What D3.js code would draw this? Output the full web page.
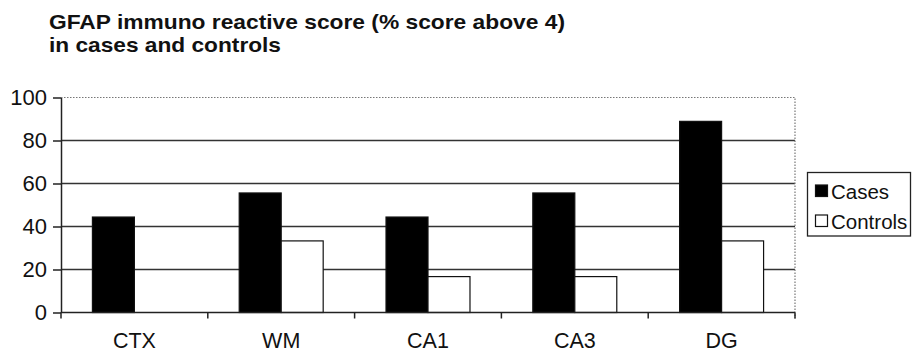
<!DOCTYPE html>
<html><head><meta charset="utf-8">
<script src="https://cdn.jsdelivr.net/npm/d3@7"></script>
<style>html,body{margin:0;padding:0;background:#fff;}svg{display:block;}</style>
</head><body>
<svg id="chart" width="912" height="353"></svg>
<script>
const titleLines = ["GFAP immuno reactive score (% score above 4)", "in cases and controls"];
const categories = ["CTX", "WM", "CA1", "CA3", "DG"];
const seriesNames = ["Cases", "Controls"];
const cases = [44.4, 55.6, 44.4, 55.6, 88.9];
const controls = [0, 33.3, 16.7, 16.7, 33.3];
const yTicks = [0, 20, 40, 60, 80, 100];

const svg = d3.select("#chart");
const font = "'Liberation Sans', Arial, Helvetica, sans-serif";
const L = 61, R = 795, T = 97.5, B = 312.5;

const x0 = d3.scaleBand().domain(categories).range([L, R]).padding(0);
const bw = x0.bandwidth();
const gap = bw * 0.214;
const x1 = d3.scaleBand().domain(seriesNames).range([gap, bw - gap]).padding(0);
const y = d3.scaleLinear().domain([0, 100]).range([B, T]);
const color = d3.scaleOrdinal().domain(seriesNames).range(["#000", "#fff"]);

// title
const tt = svg.append("g").attr("font-family", font).attr("font-weight", "bold").attr("font-size", 21).attr("fill", "#111");
tt.append("text").attr("x", 49).attr("y", 28.5).attr("textLength", 516).attr("lengthAdjust", "spacingAndGlyphs").text(titleLines[0]);
tt.append("text").attr("x", 49).attr("y", 52).attr("textLength", 232).attr("lengthAdjust", "spacingAndGlyphs").text(titleLines[1]);

// gridlines
svg.append("g").selectAll("line").data(yTicks.filter(v => v > 0 && v < 100)).join("line")
  .attr("x1", L).attr("x2", R).attr("y1", d => y(d)).attr("y2", d => y(d))
  .attr("stroke", "#333").attr("stroke-width", 1.5);

// dotted top/right border
svg.append("path").attr("d", `M${L},${y(100)}H${R}V${B + 6}`)
  .attr("fill", "none").attr("stroke", "#777").attr("stroke-width", 1.2).attr("stroke-dasharray", "1.5,1.5");

// bars
const rows = categories.map((c, i) => ({ cat: c, vals: [cases[i], controls[i]] }));
const g = svg.append("g").selectAll("g").data(rows).join("g")
  .attr("transform", d => `translate(${x0(d.cat)},0)`);
g.selectAll("rect").data(d => d.vals.map((v, j) => ({ s: seriesNames[j], v })).filter(e => e.v > 0)).join("rect")
  .attr("x", d => x1(d.s)).attr("width", x1.bandwidth())
  .attr("y", d => y(d.v)).attr("height", d => y(0) - y(d.v))
  .attr("fill", d => color(d.s)).attr("stroke", "#111").attr("stroke-width", 1.2);

// y axis
const ya = svg.append("g").attr("transform", `translate(${L},0)`)
  .call(d3.axisLeft(y).tickValues(yTicks).tickSize(8).tickPadding(6).tickSizeOuter(0));
ya.select(".domain").attr("stroke", "#222").attr("stroke-width", 1.5);
ya.selectAll(".tick line").attr("stroke", "#222").attr("stroke-width", 1.5);
ya.selectAll("text").attr("font-family", font).attr("font-size", 22).attr("fill", "#111");

// x axis
const bounds = categories.map(c => x0(c)).concat([R]);
const xg = svg.append("g");
xg.append("line").attr("x1", L).attr("x2", R).attr("y1", B).attr("y2", B).attr("stroke", "#222").attr("stroke-width", 1.5);
xg.selectAll("line.t").data(bounds).join("line").attr("class", "t")
  .attr("x1", d => d).attr("x2", d => d).attr("y1", B).attr("y2", B + 6)
  .attr("stroke", "#222").attr("stroke-width", 1.5);
xg.selectAll("text").data(categories).join("text")
  .attr("x", d => x0(d) + bw / 2).attr("y", 348).attr("text-anchor", "middle")
  .attr("font-family", font).attr("font-size", 21.5).attr("fill", "#111").text(d => d);

// legend
const lg = svg.append("g");
lg.append("rect").attr("x", 807.5).attr("y", 172.5).attr("width", 103).attr("height", 63.5)
  .attr("fill", "#fff").attr("stroke", "#222").attr("stroke-width", 1.3);
const li = lg.selectAll("g").data(seriesNames).join("g")
  .attr("transform", (d, i) => `translate(0,${i * 30})`);
li.append("rect").attr("x", 815.5).attr("y", 185).attr("width", 12).attr("height", 11.5)
  .attr("fill", d => color(d)).attr("stroke", "#111").attr("stroke-width", 1.2);
li.append("text").attr("x", 831).attr("y", 198.5).attr("font-family", font).attr("font-size", 20.5).attr("fill", "#111").text(d => d);
</script>
</body></html>
